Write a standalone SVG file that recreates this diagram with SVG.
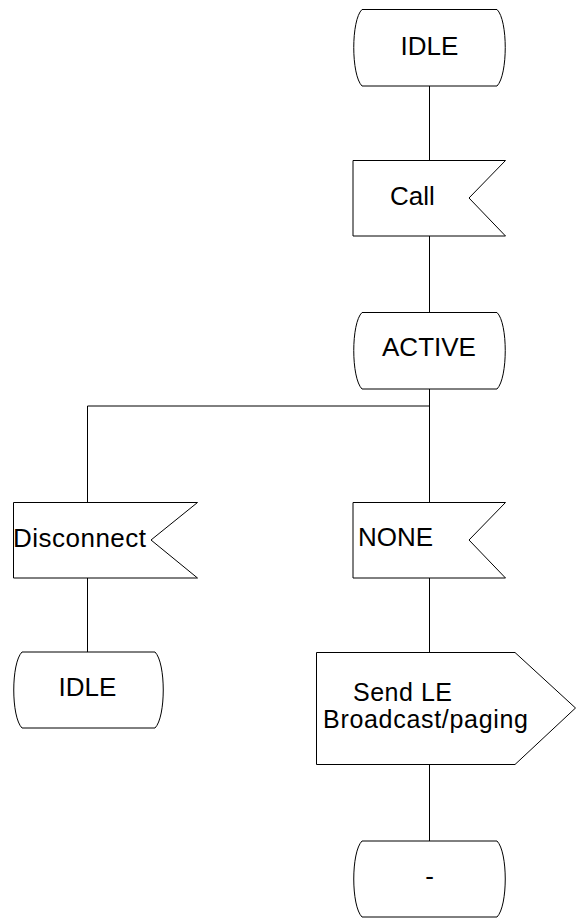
<svg xmlns="http://www.w3.org/2000/svg" width="576" height="918" viewBox="0 0 576 918">
<style>
.s{fill:#fff;stroke:#000;stroke-width:1}
.c{fill:none;stroke:#000;stroke-width:1}
text{font-family:"Liberation Sans",Arial,sans-serif;font-size:26px;fill:#000}
.m{text-anchor:middle}
.t{font-size:25px}
</style>
<rect width="576" height="918" fill="#fff"/>
<g id="connectors">
<path class="c" d="M429.5,86V160M429.5,236V312M429.5,389V502M429.5,578V652M429.5,764V841M429.5,406H87.5V502M87.5,578V652"/>
</g>
<g id="idle-top">
<path class="s" d="M362,9.5H497C508,20 508,75 497,86H362C351,75 351,20 362,9.5Z"/>
<text class="m" x="429.5" y="54.5">IDLE</text>
</g>
<g id="call">
<path class="s" d="M353,160.5H505.5L469,198L505.5,236H353Z"/>
<text x="390" y="204.5">Call</text>
</g>
<g id="active">
<path class="s" d="M362,312.5H497C508,323 508,378 497,389H362C351,378 351,323 362,312.5Z"/>
<text class="m" x="429" y="356">ACTIVE</text>
</g>
<g id="disconnect">
<path class="s" d="M13.5,502.5H197.5L151,540L197.5,578H13.5Z"/>
<text x="13" y="547" textLength="133">Disconnect</text>
</g>
<g id="none">
<path class="s" d="M353,502.5H505.5L469,540L505.5,578H353Z"/>
<text x="358" y="546">NONE</text>
</g>
<g id="idle-left">
<path class="s" d="M22,652H155C166,663 166,717 155,728H22C11,717 11,663 22,652Z"/>
<text class="m" x="87.5" y="695.5">IDLE</text>
</g>
<g id="send">
<path class="s" d="M316.5,652.5H515L575.5,708L515,764.5H316.5Z"/>
<text class="t" x="353" y="701" textLength="99">Send LE</text>
<text class="t" x="323" y="728" textLength="205">Broadcast/paging</text>
</g>
<g id="dash-state">
<path class="s" d="M362,841H497C508,852 508,906 497,917H362C351,906 351,852 362,841Z"/>
<text class="m" x="429.5" y="885">-</text>
</g>
</svg>
